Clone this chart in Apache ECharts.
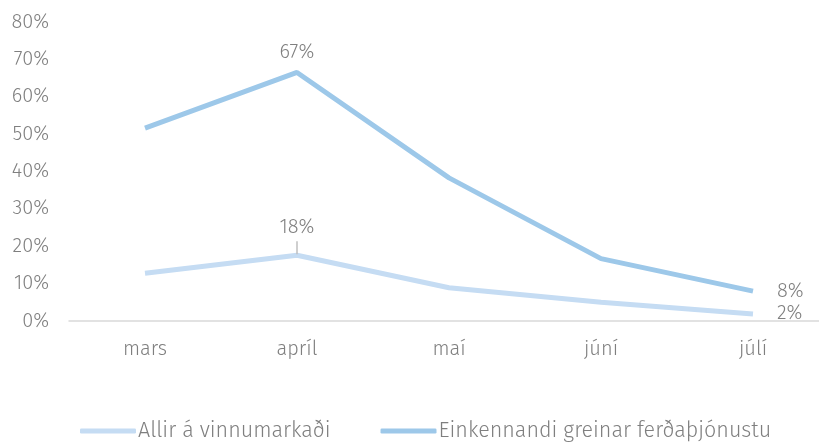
<!DOCTYPE html>
<html>
<head>
<meta charset="utf-8">
<script src="https://cdn.jsdelivr.net/npm/echarts@6/dist/echarts.min.js"></script>
<style>
  html, body { margin: 0; padding: 0; background: #fff; overflow: hidden; }
  #chart { width: 830px; height: 443px; }
</style>
</head>
<body>
<div id="chart"></div>
<script>
// months on the x axis
const categories = ['mars', 'apríl', 'maí', 'júní', 'júlí']
// shares in percent
const allirValues = [12.8, 17.6, 8.9, 5.0, 1.9]
const ferdaValues = [51.6, 66.5, 38.3, 16.7, 8.0]
const seriesNames = ['Allir á vinnumarkaði', 'Einkennandi greinar ferðaþjónustu']
// only these points carry a value label
const labelled = { 'apríl': 'top', 'júlí': 'right' }

const textColor = '#7f7f7f'
const font = '"Fira Sans", "Open Sans", "Noto Sans", sans-serif'
const fontSize = 20

function withLabels(values, labels, withLeader) {
  return values.map((v, i) => {
    const pos = labels[categories[i]]
    if (!pos) return v
    const pct = Math.round(v) + '%'
    const label = { show: true, position: pos }
    if (pos === 'right') label.distance = 24
    if (withLeader && pos === 'top') {
      // short grey leader under the text
      label.formatter = '{v|' + pct + '}\n{l|}'
      label.distance = 1
    } else {
      label.formatter = pct
    }
    return { value: v, label }
  })
}

const chart = echarts.init(document.getElementById('chart'))
chart.setOption({
  textStyle: { fontFamily: font, fontWeight: 300 },
  color: ['#C5DCF3', '#9DC8E9'],
  // plot runs a little past the window edge, like the original
  grid: { left: 69, right: 1, top: 22, bottom: 122 },
  legend: {
    top: 415,
    left: 75,
    itemWidth: 56,
    itemHeight: 5,
    itemGap: 50,
    icon: 'roundRect',
    textStyle: { color: textColor, fontSize: 21.5, fontFamily: font, fontWeight: 300, padding: [0, 0, 0, -3] },
    data: seriesNames
  },
  xAxis: {
    type: 'category',
    data: categories,
    axisLine: { lineStyle: { color: '#d9d9d9', width: 1.5 } },
    axisTick: { show: false },
    axisLabel: { color: textColor, fontSize: fontSize, fontWeight: 300, margin: 18 }
  },
  yAxis: {
    type: 'value',
    min: 0,
    max: 80,
    interval: 10,
    splitLine: { show: false },
    axisLabel: { color: textColor, fontSize: fontSize, fontWeight: 300, margin: 20, formatter: '{value}%' }
  },
  series: [{
    name: seriesNames[0],
    type: 'line',
    symbol: 'circle',
    symbolSize: 0,
    showSymbol: true,
    lineStyle: { width: 5 },
    data: withLabels(allirValues, labelled, true),
    label: {
      color: textColor, fontSize: fontSize, fontWeight: 300,
      rich: {
        v: { color: textColor, fontSize: fontSize, fontWeight: 300, fontFamily: font, padding: [0, 0, 4, 0] },
        l: { width: 1.5, height: 13, backgroundColor: '#bfbfbf' }
      }
    }
  }, {
    name: seriesNames[1],
    type: 'line',
    symbol: 'circle',
    symbolSize: 0,
    showSymbol: true,
    lineStyle: { width: 5 },
    data: withLabels(ferdaValues, labelled, false),
    label: { color: textColor, fontSize: fontSize, fontWeight: 300, distance: 10 }
  }],
  animation: false
})
</script>
</body>
</html>
